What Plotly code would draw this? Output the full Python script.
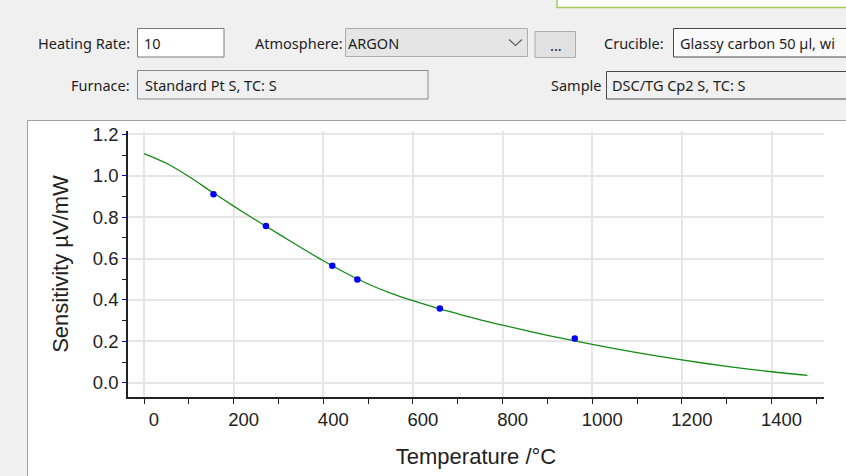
import plotly.graph_objects as go

# Sensitivity calibration curve (°C -> µV/mW)
curve_temp = [0, 50, 100, 150, 200, 250, 300, 350, 400, 450, 500, 550, 600,
              650, 700, 750, 800, 900, 1000, 1100, 1200, 1300, 1400, 1480]
curve_sens = [1.107, 1.060, 0.996, 0.924, 0.853, 0.785, 0.719, 0.653, 0.589,
              0.530, 0.477, 0.433, 0.396, 0.363, 0.333, 0.304, 0.278, 0.229,
              0.185, 0.145, 0.110, 0.079, 0.053, 0.035]

# Measured calibration points
meas_temp = [155, 272, 420, 476, 660, 961]
meas_sens = [0.910, 0.757, 0.565, 0.499, 0.359, 0.213]

x_tick_vals = [0, 200, 400, 600, 800, 1000, 1200, 1400]
y_tick_vals = [0.0, 0.2, 0.4, 0.6, 0.8, 1.0, 1.2]

# Form fields shown above the chart
heating_rate = "10"
atmosphere = "ARGON"
crucible = "Glassy carbon 50 µl, wi"
furnace = "Standard Pt S, TC: S"
sample = "DSC/TG Cp2 S, TC: S"

W, H = 846, 476
ML, MR, MT, MB = 128, 22, 131, 79
PW, PH = W - ML - MR, H - MT - MB


def px(x):
    return (x - ML) / PW


def py(y):
    return 1 - (y - MT) / PH


UI_FONT = "Noto Sans"
UI_COLOR = "#1e1e1e"
CHART_FONT = "Liberation Sans"

fig = go.Figure()

fig.add_trace(go.Scatter(
    x=curve_temp, y=curve_sens, mode="lines",
    line=dict(color="#138a13", width=1.3, shape="spline", smoothing=0.8),
    hoverinfo="skip", showlegend=False,
))
fig.add_trace(go.Scatter(
    x=meas_temp, y=meas_sens, mode="markers",
    marker=dict(color="#0000ff", size=6.5, line=dict(width=0)),
    showlegend=False,
))

shapes = []


def rect(x0, y0, x1, y1, fill, line, width=1):
    shapes.append(dict(
        type="rect", xref="paper", yref="paper", layer="below",
        x0=px(x0), x1=px(x1), y0=py(y0), y1=py(y1),
        fillcolor=fill, line=dict(color=line, width=width),
    ))


# chart panel
rect(27.5, 120.5, 870, 500, "white", "#a0a0a0")
# top-right info panel edge
rect(557, -10, 870, 7.5, "white", "#a3cc5a", 1.5)
# Heating rate input
rect(137.5, 28.5, 224, 57, "white", "#7a7a7a")
# Atmosphere drop-down
rect(345.5, 28.5, 527.5, 56.5, "#e5e5e5", "#adadad")
# "..." button
rect(535, 31.5, 575.5, 57.5, "#e1e1e1", "#adadad")
# Crucible field
rect(673.5, 28.5, 870, 57, "#fafafa", "#4a4a4a")
# Furnace field
rect(137.5, 70.5, 428, 99, "#f0f0f0", "#8a8a8a")
# Sample field
rect(606.5, 71.5, 870, 99, "#f0f0f0", "#4a4a4a")

# drop-down chevron
shapes.append(dict(
    type="path", xref="paper", yref="paper", layer="above",
    path=f"M {px(509)},{py(39.5)} L {px(515.5)},{py(45.5)} L {px(522)},{py(39.5)}",
    line=dict(color="#606060", width=1.2),
))

annotations = []


def label(text, x, y, anchor="right", size=14.5, color=UI_COLOR):
    annotations.append(dict(
        text=text, xref="paper", yref="paper", x=px(x), y=py(y),
        xanchor=anchor, yanchor="middle", showarrow=False,
        font=dict(family=UI_FONT, size=size, color=color),
    ))


label("Heating Rate:", 132, 43)
label(heating_rate, 142, 43, "left")
label("Atmosphere:", 345, 43)
label(atmosphere, 346, 43, "left")
label("...", 555.5, 45, "center")
label("Crucible:", 666, 43)
label(crucible, 678, 43, "left")
label("Furnace:", 132, 85)
label(furnace, 143, 85, "left")
label("Sample", 604, 85)
label(sample, 610, 85, "left")

fig.update_layout(
    width=W, height=H,
    margin=dict(l=ML, r=MR, t=MT, b=MB, pad=0),
    paper_bgcolor="#f0f0f0",
    plot_bgcolor="white",
    shapes=shapes,
    annotations=annotations,
    showlegend=False,
)

fig.update_xaxes(
    range=[-35.7, 1517],
    tickvals=x_tick_vals,
    ticks="outside", ticklen=5, tickwidth=1, tickcolor="#222",
    ticklabelshift=10,
    tickfont=dict(family=CHART_FONT, size=18.5, color="#222"),
    showline=True, linecolor="#222", linewidth=1.5,
    showgrid=True, gridcolor="#e6e6e6", gridwidth=1.5,
    zeroline=False,
    minor=dict(dtick=100, tick0=0, ticks="outside", ticklen=5,
               tickcolor="#222", tickwidth=1, showgrid=False),
    title=dict(text="Temperature /°C", standoff=20,
               font=dict(family=CHART_FONT, size=22, color="#222")),
)

fig.update_yaxes(
    range=[-0.069, 1.216],
    tickvals=y_tick_vals, tickformat=".1f",
    ticks="outside", ticklen=4, tickwidth=1.2, tickcolor="#0000ff",
    tickfont=dict(family=CHART_FONT, size=18.5, color="#222"),
    showline=True, linecolor="#222", linewidth=1.5,
    showgrid=True, gridcolor="#e6e6e6", gridwidth=1.5,
    zeroline=False,
    minor=dict(dtick=0.1, tick0=0, ticks="outside", ticklen=4,
               tickcolor="#222", tickwidth=1, showgrid=False),
    title=dict(text="Sensitivity µV/mW", standoff=18,
               font=dict(family=CHART_FONT, size=22, color="#222")),
)

fig.write_html("out.html", config={"displayModeBar": False})
